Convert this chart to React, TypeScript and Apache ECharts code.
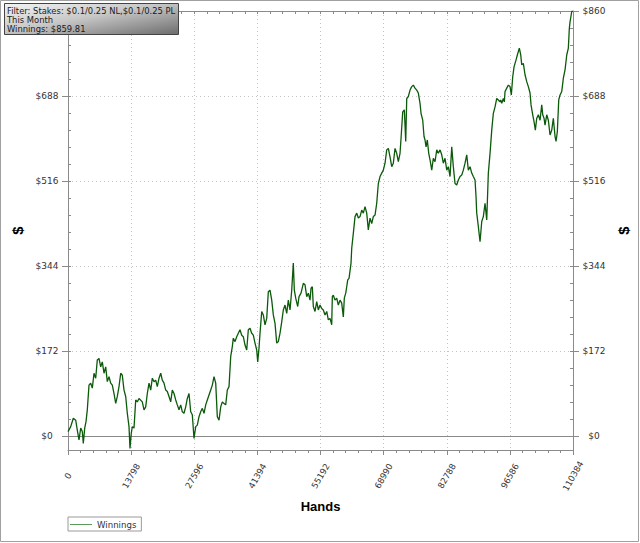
import React, { useEffect, useRef } from "react";
import * as echarts from "echarts";

const hands = [
  0, 590, 1159, 1683, 2033, 2405, 2776, 3126, 3345, 3651, 3935, 4219, 4591, 4962, 5312, 5684, 6055, 6405, 6777, 7148,
  7498, 7870, 8241, 8591, 8963, 9334, 9684, 10056, 10427, 10777, 11149, 11520, 11870, 12242, 12613, 12963, 13335, 13553,
  13837, 14056, 14428, 14799, 15149, 15521, 16242, 16614, 16985, 17335, 17707, 18078, 18428, 18800, 19171, 19521, 19893,
  20264, 20614, 20986, 21357, 21707, 22079, 22450, 22800, 23172, 23543, 23893, 24265, 24636, 24986, 25358, 25729, 26079,
  26451, 26822, 27172, 27544, 27915, 28265, 28637, 29008, 29358, 29730, 30101, 30451, 30823, 31194, 31544, 31916, 32287,
  32637, 33009, 33380, 33730, 34102, 34473, 34823, 35195, 35566, 35916,
  36135, 36506, 36878, 37228, 37599, 37971, 38321, 38692, 39064, 39414, 39785, 40157, 40507, 40878, 41250, 41468, 41753,
  41971, 42343, 42693, 43064, 43436, 43786, 44157, 44529, 44879, 45250, 45622, 45972, 46343, 46715, 47065, 47436, 47808,
  48158, 48529, 48901, 49251, 49470, 49775, 50212, 50497, 50934, 51437, 51808, 52180, 52530, 52901, 53120, 53404, 53623,
  53994, 54366, 54716, 55087, 55459, 55809, 56180, 56552, 56902, 57273, 57645, 57776, 57995, 58366, 58738, 59088, 59459,
  59831, 60181, 60400, 60705, 60924, 61142, 61427, 61864,
  62017, 62367, 62738, 63110, 63460, 63831, 64203, 64553, 64924, 65296, 65646, 66017, 66389, 66739, 67110, 67482, 67832,
  68203, 68575, 68925, 69296, 69668, 70018, 70389, 70761, 71111, 71482, 71854, 72204, 72575, 72794, 73165, 73515, 73821,
  74040, 74390, 74761, 75133, 75483, 75854, 76226, 76576, 76947, 77166, 77537, 77822, 78040, 78259, 78543, 78849, 79133,
  79505, 79855, 80226, 80598, 80948, 81319, 81691, 82041, 82412, 82784, 83134, 83505, 83877, 84227, 84598, 84970, 85320,
  85691, 86063, 86413, 86784, 87156, 87506, 87877, 88249, 88599, 88970, 89189, 89342, 89692, 90063, 90435, 90785, 91156,
  91528, 91878, 92249, 92621, 92971, 93342, 93714, 94064, 94435,
  94588, 94807, 95157, 95376, 95528, 95900, 96250, 96621, 96905, 97211, 97496, 97933, 98217, 98654, 98960, 99179, 99529,
  99900, 100272, 100622, 100993, 101212, 101583, 101868, 102152, 102458, 102808, 103179, 103551, 103769, 104054, 104272,
  104644, 104994, 105365, 105737, 106087, 106458, 106677, 106961, 107267, 107551, 107923, 108273, 108644, 109016, 109366,
  109584, 109737, 110109, 110384,
];

const winnings = [
  9, 19, 36, 32, 12, -8, 16, 9, -15, 16, 29, 53, 103, 107, 97, 127, 117, 154, 157, 140,
  150, 127, 140, 110, 120, 107, 103, 86, 66, 80, 100, 127, 123, 93, 80, 46, 19, -25,
  6, 19, 16, 73, 69, 76, 69, 53, 59, 86, 107, 93, 117, 110, 113, 100, 117,
  127, 113, 107, 93, 90, 80, 69, 93, 86, 73, 63, 53, 63, 49, 46, 59, 76,
  86, 49, 43, -5, 19, 22, 39, 49, 56, 46, 63, 73, 83, 93, 103, 120, 107,
  39, 32, 59, 69, 66, 63, 93, 100, 161, 181,
  198, 191, 201, 208, 215, 204, 201, 184, 174, 215, 218, 208, 204, 188, 174, 150, 178,
  208, 252, 245, 225, 238, 292, 295, 275, 245, 228, 188, 191, 208, 231, 255, 265, 248,
  275, 255, 295, 350, 295, 279, 262, 282, 289, 309, 306, 282, 289, 275, 299, 302, 262,
  252, 272, 255, 265, 258, 255, 245, 252, 235, 238, 225, 282, 285, 275, 279, 265, 275,
  269, 241, 279, 289, 302, 316, 319, 350,
  380, 410, 444, 451, 441, 444, 457, 451, 464, 451, 417, 441, 430, 444, 447, 471, 511,
  525, 532, 538, 552, 579, 582, 565, 545, 552, 582, 572, 555, 572, 602, 656, 660, 596,
  683, 687, 700, 707, 710, 704, 700, 694, 673, 653, 639, 606, 599, 585, 599, 572, 559,
  538, 562, 555, 579, 572, 579, 569, 552, 562, 538, 545, 525, 585, 545, 511, 508, 518,
  525, 528, 538, 552, 569, 538, 545, 532, 525, 518, 484, 451, 424, 393, 434, 444, 471,
  437, 532, 572, 619, 653, 666, 683, 680, 676,
  680, 673, 683, 676, 697, 704, 710, 707, 690, 727, 747, 761, 771, 785, 771, 751, 754,
  731, 717, 707, 694, 670, 650, 636, 619, 643, 650, 639, 670, 650, 643, 629,
  650, 639, 609, 619, 643, 606, 596, 616, 680, 690, 697, 724, 741, 771, 785,
  825, 838, 859, 859.81,
];

const yTicks = [0, 172, 344, 516, 688, 860];
// the left "$860" label is hidden under the info box in the reference
const yTicksLeftLabels = [0, 172, 344, 516, 688];
const yMin = -28.3;
const xMax = 110384;
const xStep = 13798;
const seriesName = "Winnings";
const xName = "Hands";
const yName = "$";
const infoLines = ["Filter: Stakes: $0.1/0.25 NL,$0.1/0.25 PL", "This Month", "Winnings: $859.81"];

export default function App() {
  const ref = useRef<HTMLDivElement>(null);

  useEffect(() => {
    if (!ref.current) return;
    const chart = echarts.init(ref.current, null, { renderer: "svg" });
    const font = "'DejaVu Sans', Verdana, sans-serif";
    const axisColor = "#8a8a8a";
    const gridColor = "#c4c4c4";
    const yMax = yTicks[yTicks.length - 1];
    const minorStep = (yTicks[1] - yTicks[0]) / 5;
    const yMinor: number[] = [];
    for (let v = yTicks[0]; v <= yMax + 0.01; v += minorStep) yMinor.push(Math.round(v * 100) / 100);

    const mainY = (pos: "left" | "right") => ({
      type: "value",
      position: pos,
      min: yMin,
      max: yMax,
      axisLine: { show: true, lineStyle: { color: axisColor, width: 1 } },
      axisTick: { show: true, customValues: yTicks, length: 6, lineStyle: { color: axisColor } },
      axisLabel: {
        show: true,
        customValues: pos === "left" ? yTicksLeftLabels : yTicks,
        formatter: (v: number) => "$" + v,
        align: "center",
        margin: 21,
        fontSize: 9,
        fontFamily: font,
        color: "#333",
      },
      splitLine: { show: pos === "left", lineStyle: { type: [1, 3], color: gridColor, width: 1 } },
      name: yName,
      nameLocation: "middle",
      nameGap: pos === "left" ? 41 : 38,
      nameRotate: 90,
      nameTextStyle: { fontSize: 15, fontWeight: "bold", fontFamily: "'Liberation Sans', Arial, sans-serif", color: "#000" },
    });
    const minorY = (pos: "left" | "right") => ({
      type: "value",
      position: pos,
      min: yMin,
      max: yMax,
      axisLine: { show: false },
      axisTick: { show: true, customValues: yMinor, inside: true, length: 3, lineStyle: { color: axisColor } },
      axisLabel: { show: false },
      splitLine: { show: false },
    });

    chart.setOption({
      animation: false,
      backgroundColor: "#ffffff",
      grid: { left: 68, right: 67, top: 11, bottom: 93, containLabel: false, outerBoundsMode: "none" },
      xAxis: [
        {
          type: "value",
          position: "bottom",
          min: 0,
          max: xMax,
          interval: xStep,
          axisLine: { show: true, onZero: false, lineStyle: { color: axisColor } },
          axisTick: { show: true, length: 5, lineStyle: { color: axisColor } },
          minorTick: { show: true, splitNumber: 5, length: 3, lineStyle: { color: axisColor } },
          axisLabel: {
            rotate: 60,
            fontSize: 8.6,
            fontFamily: font,
            color: "#333",
            margin: 26,
            align: "center",
            verticalAlign: "middle",
            showMinLabel: true,
            showMaxLabel: true,
            formatter: (v: number) => String(Math.round(v)),
          },
          splitLine: { show: true, lineStyle: { type: [1, 3], color: gridColor } },
          name: xName,
          nameLocation: "middle",
          nameGap: 49,
          nameTextStyle: { fontSize: 13, fontWeight: "bold", fontFamily: "'Liberation Sans', Arial, sans-serif", color: "#000", verticalAlign: "top" },
        },
        {
          type: "value",
          position: "top",
          min: 0,
          max: xMax,
          interval: xStep,
          axisLine: { show: true, onZero: false, lineStyle: { color: axisColor } },
          axisTick: { show: true, inside: true, length: 3, lineStyle: { color: axisColor } },
          minorTick: { show: true, splitNumber: 5, length: 3, lineStyle: { color: axisColor } },
          axisLabel: { show: false },
          splitLine: { show: false },
        },
      ],
      yAxis: [mainY("left"), minorY("left"), mainY("right"), minorY("right")],
      legend: {
        show: true,
        left: 68,
        top: 517,
        orient: "horizontal",
        borderColor: "#9a9a9a",
        borderWidth: 1,
        padding: [3, 5, 2, 2],
        itemWidth: 22,
        itemHeight: 10,
        itemGap: 6,
        textStyle: { fontSize: 8.6, fontFamily: font, color: "#333" },
        data: [{ name: seriesName, icon: "path://M0,5 L22,5 L22,6 L0,6 Z" }],
        itemStyle: { color: "#5c9a5c" },
      },
      series: [
        {
          name: seriesName,
          type: "line",
          xAxisIndex: 0,
          yAxisIndex: 0,
          data: hands.map((h, i) => [h, winnings[i]]),
          showSymbol: false,
          symbol: "none",
          lineStyle: { color: "#0a5a0a", width: 1.3 },
          itemStyle: { color: "#0a5a0a" },
          z: 5,
          markLine: {
            silent: true,
            symbol: ["none", "none"],
            label: { show: false },
            lineStyle: { color: "#8a8a8a", type: "solid", width: 1 },
            data: [{ yAxis: 0 }],
          },
        },
      ],
      graphic: [
        {
          type: "rect",
          shape: { x: 0.5, y: 0.5, width: 638, height: 541 },
          style: { fill: "none", stroke: "#a0a0a0", lineWidth: 1 },
          silent: true,
          z: 100,
        },
        {
          type: "rect",
          z: 101,
          shape: { x: 4.5, y: 3.5, width: 174, height: 31 },
          style: {
            fill: new echarts.graphic.LinearGradient(0, 0, 1, 1, [
              { offset: 0, color: "#f4f4f4" },
              { offset: 0.45, color: "#c8c8c8" },
              { offset: 1, color: "#6c6c6c" },
            ]),
            stroke: "#444",
            lineWidth: 1,
          },
        },
        ...infoLines.map((t, i) => ({
          type: "text",
          z: 102,
          x: 7,
          y: 10.7 + i * 9.3,
          style: {
            text: t,
            fontSize: 8.4,
            fontFamily: font,
            fill: "#1a1a1a",
            verticalAlign: "middle",
            align: "left",
          },
        })),
      ],
    });

    return () => chart.dispose();
  }, []);

  return <div ref={ref} style={{ position: "absolute", left: 0, top: 0, width: 640, height: 543 }} />;
}
